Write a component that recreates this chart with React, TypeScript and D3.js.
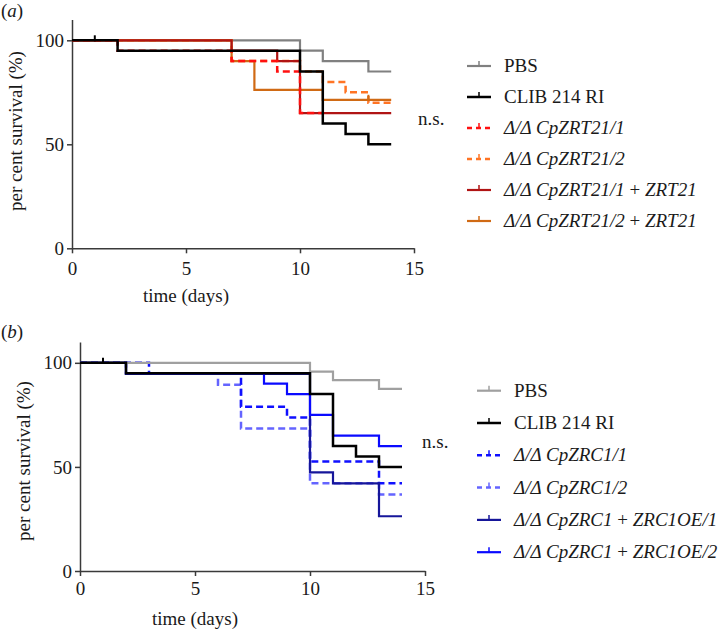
import { useEffect, useRef } from 'react';
import * as d3 from 'd3';

type Pt = [number, number];

const dayTicks = [0, 5, 10, 15];
const survivalTicks = [0, 50, 100];

// panel (a): [day, per cent survival] at each step
const aPBS: Pt[] = [[0, 100], [10, 95], [11, 90], [13, 85], [14, 85]];
const aCLIB: Pt[] = [[0, 100], [2, 95], [10, 85], [11, 60], [12, 55], [13, 50], [14, 50]];
const aZRT21_1: Pt[] = [[0, 100], [2, 95], [7, 90], [9, 85], [10, 65], [11, 65]];
const aZRT21_2: Pt[] = [[0, 100], [7, 90], [10, 85], [11, 80], [12, 75], [13, 70], [14, 70]];
const aZRT21_1R: Pt[] = [[0, 100], [7, 95], [9, 90], [10, 65], [14, 65]];
const aZRT21_2R: Pt[] = [[0, 100], [7, 90], [8, 76.2], [11, 71.4], [14, 71.4]];
const aCLIBCensor: Pt[] = [[1, 100]];
const aZRT21_2RCensor: Pt[] = [[13, 71.4]];

// panel (b)
const bPBS: Pt[] = [[0, 100], [10, 95.8], [11, 91.7], [13, 87.5], [14, 87.5]];
const bCLIB: Pt[] = [[0, 100], [2, 95], [10, 85], [11, 60], [12, 55], [13, 50], [14, 50]];
const bZRC1_1: Pt[] = [[0, 100], [3, 94.7], [7, 78.9], [9, 73.7], [10, 52.6], [13, 42.1], [14, 42.1]];
const bZRC1_2: Pt[] = [[0, 100], [2, 94.7], [6, 89.5], [7, 68.4], [10, 42.1], [13, 36.8], [14, 36.8]];
const bOE1: Pt[] = [[0, 100], [2, 94.7], [10, 47.4], [11, 42.1], [13, 26.3], [14, 26.3]];
const bOE2: Pt[] = [[0, 100], [2, 95], [8, 90], [9, 85], [10, 75], [11, 65], [13, 60], [14, 60]];
const bCLIBCensor: Pt[] = [[1, 100]];

const aLegend = ['PBS', 'CLIB 214 RI', 'Δ/Δ CpZRT21/1', 'Δ/Δ CpZRT21/2', 'Δ/Δ CpZRT21/1 + ZRT21', 'Δ/Δ CpZRT21/2 + ZRT21'];
const bLegend = ['PBS', 'CLIB 214 RI', 'Δ/Δ CpZRC1/1', 'Δ/Δ CpZRC1/2', 'Δ/Δ CpZRC1 + ZRC1OE/1', 'Δ/Δ CpZRC1 + ZRC1OE/2'];

interface Series {
  data: Pt[];
  color: string;
  dashed: boolean;
  width: number;
  censor?: Pt[];
  legend: number;
}

interface Panel {
  tag: string;
  x: [number, number];
  y: [number, number];
  tickPad: number;
  yLabel: [number, number];
  xLabelY: number;
  tagY: number;
  legendX: number;
  legendY: number;
  legendStep: number;
  nsX: number;
  nsY: number;
  legend: string[];
  series: Series[]; // drawing order
}

const FONT = 'Liberation Serif, DejaVu Serif, Times, serif';

const panels: Panel[] = [
  {
    tag: 'a', x: [72, 414], y: [248.3, 19.5], tickPad: 8, yLabel: [22, 131], xLabelY: 302, tagY: 17,
    legendX: 467, legendY: 66, legendStep: 31, nsX: 418, nsY: 125, legend: aLegend,
    series: [
      { data: aPBS, color: '#808080', dashed: false, width: 2.2, legend: 0 },
      { data: aZRT21_2, color: '#ff7424', dashed: true, width: 2.5, legend: 3 },
      { data: aZRT21_2R, color: '#d06a14', dashed: false, width: 2.2, censor: aZRT21_2RCensor, legend: 5 },
      { data: aZRT21_1R, color: '#b01414', dashed: false, width: 2.2, legend: 4 },
      { data: aZRT21_1, color: '#ff1010', dashed: true, width: 2.5, legend: 2 },
      { data: aCLIB, color: '#000000', dashed: false, width: 2.5, censor: aCLIBCensor, legend: 1 },
    ],
  },
  {
    tag: 'b', x: [80, 425], y: [571, 342], tickPad: 6, yLabel: [30, 461], xLabelY: 625, tagY: 338,
    legendX: 477, legendY: 390.7, legendStep: 32.3, nsX: 422, nsY: 448, legend: bLegend,
    series: [
      { data: bZRC1_2, color: '#6464ff', dashed: true, width: 2.5, legend: 3 },
      { data: bZRC1_1, color: '#1010ff', dashed: true, width: 2.5, legend: 2 },
      { data: bOE1, color: '#16169a', dashed: false, width: 2.2, legend: 4 },
      { data: bOE2, color: '#0a0aff', dashed: false, width: 2.2, legend: 5 },
      { data: bPBS, color: '#a0a0a0', dashed: false, width: 2.2, legend: 0 },
      { data: bCLIB, color: '#000000', dashed: false, width: 2.5, censor: bCLIBCensor, legend: 1 },
    ],
  },
];

export default function App() {
  const svgRef = useRef<SVGSVGElement>(null);

  useEffect(() => {
    if (!svgRef.current) return;
    const svg = d3.select(svgRef.current);
    svg.selectAll('*').remove();

    panels.forEach(p => {
      const x = d3.scaleLinear().domain([0, 15]).range(p.x);
      const y = d3.scaleLinear().domain([0, 110]).range(p.y);
      const g = svg.append('g');

      // axes
      const yAxis = g.append('g')
        .attr('transform', `translate(${p.x[0]},0)`)
        .call(d3.axisLeft(y).tickValues(survivalTicks).tickSize(5).tickSizeOuter(0).tickPadding(3));
      const xAxis = g.append('g')
        .attr('transform', `translate(0,${p.y[0]})`)
        .call(d3.axisBottom(x).tickValues(dayTicks).tickSize(5).tickSizeOuter(0).tickPadding(p.tickPad));
      [yAxis, xAxis].forEach(a => {
        a.attr('font-family', null).attr('font-size', null);
        a.selectAll('path, line').attr('stroke', '#3a3a3a').attr('stroke-width', 1.5);
        a.selectAll('text')
          .attr('fill', '#1a1a1a')
          .attr('font-family', FONT)
          .attr('font-size', 19);
      });

      const line = d3.line<Pt>()
        .x(d => x(d[0]))
        .y(d => y(d[1]))
        .curve(d3.curveStepAfter);

      p.series.forEach(s => {
        g.append('path')
          .datum(s.data)
          .attr('fill', 'none')
          .attr('stroke', s.color)
          .attr('stroke-width', s.width)
          .attr('stroke-dasharray', s.dashed ? '7,4' : null)
          .attr('d', line);
        (s.censor || []).forEach(c => {
          g.append('line')
            .attr('x1', x(c[0])).attr('x2', x(c[0]))
            .attr('y1', y(c[1]) - 5).attr('y2', y(c[1]) + 1)
            .attr('stroke', s.color)
            .attr('stroke-width', 2);
        });
      });

      const txt = (sel: d3.Selection<SVGTextElement, unknown, null, undefined>) =>
        sel.attr('font-family', FONT).attr('font-size', 19).attr('fill', '#1a1a1a');

      // axis titles
      g.append('text')
        .attr('transform', `translate(${p.yLabel[0]},${p.yLabel[1]}) rotate(-90)`)
        .attr('text-anchor', 'middle')
        .call(txt)
        .text('per cent survival (%)');

      g.append('text')
        .attr('x', x(5))
        .attr('y', p.xLabelY)
        .attr('text-anchor', 'middle')
        .call(txt)
        .text('time (days)');

      const tag = g.append('text')
        .attr('x', 1)
        .attr('y', p.tagY)
        .call(txt);
      tag.append('tspan').text('(');
      tag.append('tspan').attr('font-style', 'italic').text(p.tag);
      tag.append('tspan').text(')');

      g.append('text')
        .attr('x', p.nsX)
        .attr('y', p.nsY)
        .call(txt)
        .text('n.s.');

      // legend
      const byLegend = [...p.series].sort((a, b) => a.legend - b.legend);
      byLegend.forEach((s, i) => {
        const ly = p.legendY + i * p.legendStep;
        const lg = g.append('g');
        lg.append('line')
          .attr('x1', p.legendX).attr('x2', p.legendX + 24)
          .attr('y1', ly).attr('y2', ly)
          .attr('stroke', s.color)
          .attr('stroke-width', s.width)
          .attr('stroke-dasharray', s.dashed ? '5,4' : null);
        lg.append('line')
          .attr('x1', p.legendX + 12).attr('x2', p.legendX + 12)
          .attr('y1', ly - 5).attr('y2', ly)
          .attr('stroke', s.color)
          .attr('stroke-width', 1.5);
        const label = p.legend[s.legend];
        const t = lg.append('text')
          .attr('x', p.legendX + 37)
          .attr('y', ly + 6)
          .call(txt);
        if (label.startsWith('Δ')) {
          const parts = label.split(' + ');
          t.append('tspan').attr('font-style', 'italic').text(parts[0]);
          if (parts[1]) {
            t.append('tspan').text(' + ');
            t.append('tspan').attr('font-style', 'italic').text(parts[1]);
          }
        } else {
          t.text(label);
        }
      });
    });
  }, []);

  return (
    <svg
      ref={svgRef}
      width={720}
      height={629}
      viewBox="0 0 720 629"
      style={{ position: 'absolute', left: 0, top: 0, background: '#fff' }}
    />
  );
}
